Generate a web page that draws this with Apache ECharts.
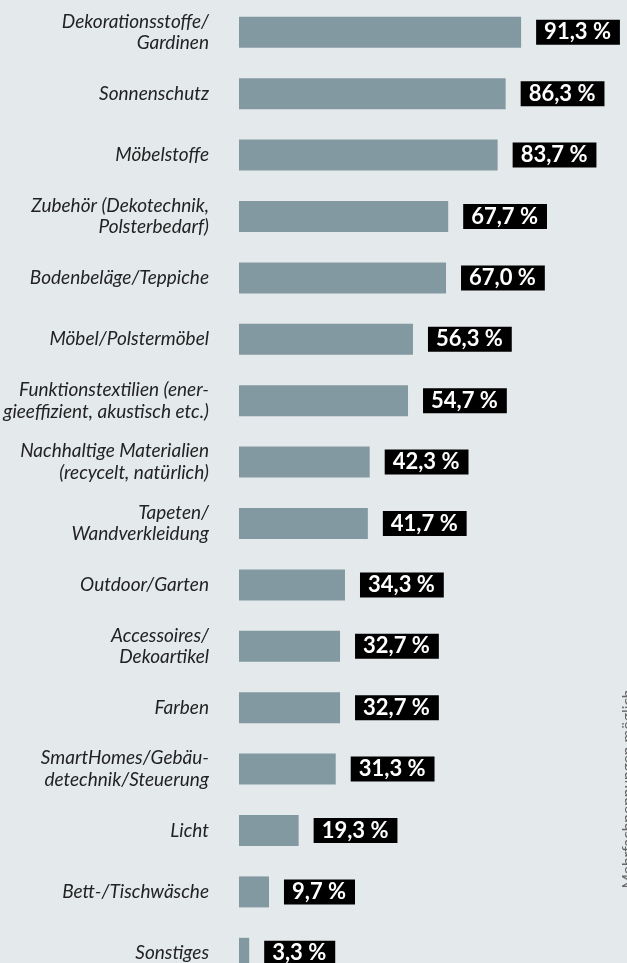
<!DOCTYPE html>
<html>
<head>
<meta charset="utf-8">
<script src="https://cdn.jsdelivr.net/npm/echarts@6/dist/echarts.min.js"></script>
<style>
  html, body { margin: 0; padding: 0; background: #e4e9ec; }
  #main-chart { width: 627px; height: 963px; }
</style>
</head>
<body>
<div id="main-chart"></div>
<script>
// Kategorien (von oben nach unten)
const categories = [
    'Dekorationsstoffe/\nGardinen',
    'Sonnenschutz',
    'Möbelstoffe',
    'Zubehör (Dekotechnik,\nPolsterbedarf)',
    'Bodenbeläge/Teppiche',
    'Möbel/Polstermöbel',
    'Funktionstextilien (ener-\ngieeffizient, akustisch etc.)',
    'Nachhaltige Materialien\n(recycelt, natürlich)',
    'Tapeten/\nWandverkleidung',
    'Outdoor/Garten',
    'Accessoires/\nDekoartikel',
    'Farben',
    'SmartHomes/Gebäu-\ndetechnik/Steuerung',
    'Licht',
    'Bett-/Tischwäsche',
    'Sonstiges'
];
// Anteil in Prozent
const values = [91.3, 86.3, 83.7, 67.7, 67.0, 56.3, 54.7, 42.3, 41.7, 34.3, 32.7, 32.7, 31.3, 19.3, 9.7, 3.3];
const sideNote = 'Mehrfachnennungen möglich';

const chartDom = document.getElementById('main-chart');
const myChart = echarts.init(chartDom);

const fmt = (v) => v.toFixed(1).replace('.', ',') + ' %';

const option = {
    backgroundColor: '#e4e9ec',
    animation: false,
    grid: {
        left: 239,
        top: 1.6,
        width: 309,
        height: 982.4,
        containLabel: false,
        outerBoundsMode: 'none'
    },
    xAxis: {
        type: 'value',
        min: 0,
        max: 100,
        show: false
    },
    yAxis: {
        type: 'category',
        data: categories,
        inverse: true,
        axisLine: { show: false },
        axisTick: { show: false },
        splitLine: { show: false },
        axisLabel: {
            margin: 30,
            fontFamily: 'Lato',
            fontStyle: 'italic',
            fontSize: 19,
            lineHeight: 21.7,
            color: '#222'
        }
    },
    series: [
        {
            type: 'bar',
            data: values,
            barWidth: 31,
            itemStyle: { color: '#8399a1' },
            label: {
                show: true,
                position: 'right',
                distance: 15,
                formatter: (p) => fmt(p.value),
                fontFamily: 'Lato',
                fontWeight: 'bold',
                fontSize: 22,
                lineHeight: 22,
                color: '#fff',
                backgroundColor: '#000',
                padding: [2, 9, 1, 8]
            }
        }
    ],
    graphic: [
        {
            type: 'text',
            x: 628,
            y: 789,
            rotation: Math.PI / 2,
            style: {
                text: sideNote,
                fontFamily: 'Lato',
                fontSize: 15.5,
                fill: '#666',
                align: 'center',
                verticalAlign: 'middle'
            }
        }
    ]
};

myChart.setOption(option);
</script>
</body>
</html>
